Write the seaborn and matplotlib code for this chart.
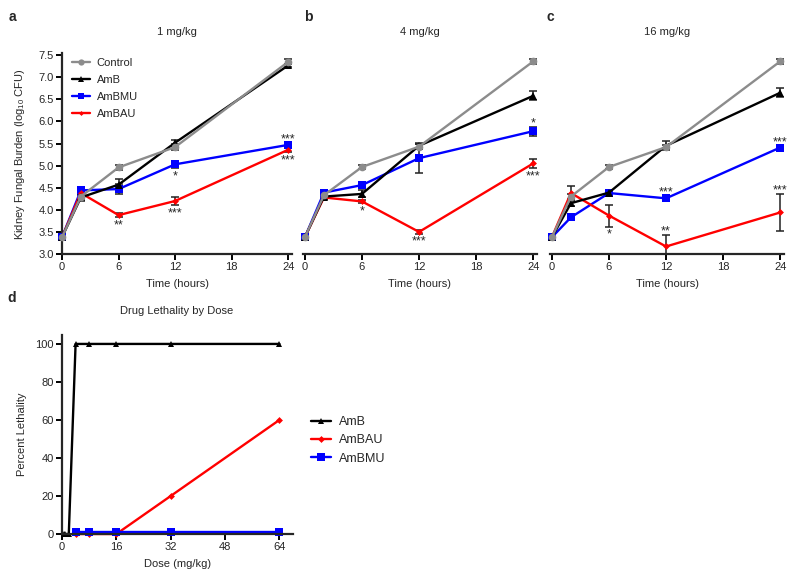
import numpy as np
import pandas as pd
import matplotlib
matplotlib.use("Agg")
import matplotlib.pyplot as plt
from matplotlib.lines import Line2D
import seaborn as sns

# ---------------- data ----------------
time_h = [0, 2, 6, 12, 24]
series_order = ["Control", "AmB", "AmBMU", "AmBAU"]
panel_titles = ["1 mg/kg", "4 mg/kg", "16 mg/kg"]
panel_letters = ["a", "b", "c"]

# 1 mg/kg
control_1 = [3.38, 4.30, 4.96, 5.42, 7.35]
control_1_err = [0.05, 0.05, 0.05, 0.07, 0.06]
amb_1 = [3.38, 4.28, 4.57, 5.52, 7.27]
amb_1_err = [0.05, 0.08, 0.12, 0.06, 0.04]
ambmu_1 = [3.38, 4.44, 4.47, 5.03, 5.47]
ambmu_1_err = [0.05, 0.06, 0.12, 0.08, 0.05]
ambau_1 = [3.38, 4.38, 3.88, 4.20, 5.36]
ambau_1_err = [0.05, 0.05, 0.05, 0.10, 0.05]

# 4 mg/kg
control_4 = [3.38, 4.33, 4.97, 5.43, 7.36]
control_4_err = [0.05, 0.05, 0.05, 0.05, 0.05]
amb_4 = [3.38, 4.30, 4.36, 5.45, 6.58]
amb_4_err = [0.05, 0.05, 0.08, 0.06, 0.10]
ambmu_4 = [3.38, 4.39, 4.56, 5.17, 5.78]
ambmu_4_err = [0.05, 0.06, 0.07, 0.33, 0.10]
ambau_4 = [3.38, 4.28, 4.19, 3.50, 5.05]
ambau_4_err = [0.05, 0.04, 0.04, 0.04, 0.10]

# 16 mg/kg
control_16 = [3.38, 4.30, 4.97, 5.42, 7.36]
control_16_err = [0.05, 0.05, 0.05, 0.05, 0.05]
amb_16 = [3.38, 4.15, 4.39, 5.45, 6.65]
amb_16_err = [0.05, 0.06, 0.05, 0.10, 0.10]
ambmu_16 = [3.38, 3.83, 4.38, 4.26, 5.41]
ambmu_16_err = [0.05, 0.05, 0.05, 0.05, 0.05]
ambau_16 = [3.38, 4.38, 3.87, 3.17, 3.94]
ambau_16_err = [0.05, 0.15, 0.25, 0.26, 0.42]

# significance marks: (series, time, text, side)
stars_1 = [("AmBAU", 6, "**", "below"), ("AmBMU", 12, "*", "below"),
           ("AmBAU", 12, "***", "below"), ("AmBMU", 24, "***", "above"),
           ("AmBAU", 24, "***", "below")]
stars_4 = [("AmBAU", 6, "*", "below"), ("AmBAU", 12, "***", "below"),
           ("AmBMU", 24, "*", "above"), ("AmBAU", 24, "***", "below")]
stars_16 = [("AmBAU", 6, "*", "below"), ("AmBMU", 12, "***", "above"),
            ("AmBAU", 12, "**", "above"), ("AmBMU", 24, "***", "above"),
            ("AmBAU", 24, "***", "above")]

# lethality panel
dose_amb = [0.5, 1, 2, 4, 8, 16, 32, 64]
lethality_amb = [0, 0, 0, 100, 100, 100, 100, 100]
dose_other = [4, 8, 16, 32, 64]
lethality_ambau = [0, 0, 0, 20, 60]
lethality_ambmu = [1, 1, 1, 1, 1]

y_ticks = [3.0, 3.5, 4.0, 4.5, 5.0, 5.5, 6.0, 6.5, 7.0, 7.5]
x_ticks = [0, 6, 12, 18, 24]
dose_ticks = [0, 16, 32, 48, 64]
leth_ticks = [0, 20, 40, 60, 80, 100]

# ---------------- style ----------------
sns.set_style("ticks")
plt.rcParams["font.family"] = ["Liberation Sans", "DejaVu Sans"]
plt.rcParams["mathtext.fontset"] = "custom"
plt.rcParams["mathtext.rm"] = "Liberation Sans"
plt.rcParams["mathtext.it"] = "Liberation Sans:italic"

palette = {"Control": "#8c8c8c", "AmB": "#000000", "AmBMU": "#0000ff", "AmBAU": "#ff0000"}
markers = {"Control": "o", "AmB": "^", "AmBMU": "s", "AmBAU": "D"}
msizes = {"Control": 5.5, "AmB": 5.5, "AmBMU": 5.5, "AmBAU": 3.5}
draw_order = ["AmBMU", "AmBAU", "AmB", "Control"]

W, H = 800, 579
fig = plt.figure(figsize=(8, 5.79), dpi=100)


def px_axes(left, top, right, bottom):
    return fig.add_axes([left / W, 1 - bottom / H, (right - left) / W, (bottom - top) / H])


def style_axis(ax, show_left=True):
    sns.despine(ax=ax, left=not show_left)
    for s in ["left", "bottom"]:
        ax.spines[s].set_linewidth(1.6)
    ax.tick_params(axis="both", width=1.4, length=4, labelsize=8, pad=2, color="black")
    if not show_left:
        ax.tick_params(axis="y", left=False, labelleft=False)


panels = [
    {"Control": (control_1, control_1_err), "AmB": (amb_1, amb_1_err),
     "AmBMU": (ambmu_1, ambmu_1_err), "AmBAU": (ambau_1, ambau_1_err)},
    {"Control": (control_4, control_4_err), "AmB": (amb_4, amb_4_err),
     "AmBMU": (ambmu_4, ambmu_4_err), "AmBAU": (ambau_4, ambau_4_err)},
    {"Control": (control_16, control_16_err), "AmB": (amb_16, amb_16_err),
     "AmBMU": (ambmu_16, ambmu_16_err), "AmBAU": (ambau_16, ambau_16_err)},
]
stars_all = [stars_1, stars_4, stars_16]
axes_px = [(62, 53, 292), (303, 53, 537), (550, 53, 784)]
xlims = [(0, 24.4), (-0.2, 24.4), (-0.2, 24.4)]

for i, (pdata, stars) in enumerate(zip(panels, stars_all)):
    l, t, r = axes_px[i]
    ax = px_axes(l, t, r, 254)
    for name in draw_order:
        vals, errs = pdata[name]
        df = pd.DataFrame({"Time": time_h, "Value": vals, "Drug": name})
        ax.errorbar(time_h, vals, yerr=errs, fmt="none", ecolor="#222222",
                    elinewidth=1.1, capsize=3, capthick=1.1, zorder=2)
        sns.lineplot(data=df, x="Time", y="Value", color=palette[name],
                     marker=markers[name], markersize=msizes[name],
                     markeredgewidth=0, linewidth=1.7, ax=ax, clip_on=False,
                     zorder=3, legend=False)
    for name, tx, txt, side in stars:
        vals, errs = pdata[name]
        k = time_h.index(tx)
        if side == "below":
            ax.annotate(txt, (tx, vals[k] - errs[k]), xytext=(0, -1.5),
                        textcoords="offset points", ha="center", va="top", fontsize=9)
        else:
            ax.annotate(txt, (tx, vals[k] + errs[k]), xytext=(0, -2),
                        textcoords="offset points", ha="center", va="bottom", fontsize=9)
    ax.set_xlim(*xlims[i])
    ax.set_ylim(3.0, 7.55)
    ax.set_xticks(x_ticks)
    ax.set_yticks(y_ticks)
    ax.set_yticklabels([f"{v:.1f}" for v in y_ticks])
    style_axis(ax, show_left=(i == 0))
    ax.set_xlabel("Time (hours)", fontsize=8, labelpad=5)
    ax.set_ylabel("")
    fig.text((l + r) / 2 / W, 1 - 32 / H, panel_titles[i], ha="center", va="center", fontsize=8)
    if i == 0:
        handles = []
        for name in series_order:
            handles.append(Line2D([], [], color=palette[name], marker=markers[name],
                                  markersize=msizes[name] - 1, markeredgewidth=0, linewidth=1.7))
        ax.legend(handles, series_order, loc="upper left", bbox_to_anchor=(0.015, 1.01),
                  frameon=False, fontsize=8, handlelength=1.6, handletextpad=0.6,
                  labelspacing=0.65, borderaxespad=0.2)

fig.text(20 / W, 1 - 154 / H, "Kidney Fungal Burden (log$_{10}$ CFU)", rotation=90,
         ha="center", va="center", fontsize=8)
for letter, xp in zip(panel_letters, [12, 308, 550]):
    fig.text(xp / W, 1 - 17 / H, letter, ha="center", va="center", fontsize=10, fontweight="bold")

# ---------------- panel d ----------------
axd = px_axes(62, 335, 293, 534)
df_amb = pd.DataFrame({"Dose": dose_amb, "Lethality": lethality_amb})
df_ambau = pd.DataFrame({"Dose": dose_other, "Lethality": lethality_ambau})
df_ambmu = pd.DataFrame({"Dose": dose_other, "Lethality": lethality_ambmu})
sns.lineplot(data=df_amb, x="Dose", y="Lethality", color=palette["AmB"], marker="^",
             markersize=5, markeredgewidth=0, linewidth=1.7, ax=axd, clip_on=False, label="AmB")
sns.lineplot(data=df_ambau, x="Dose", y="Lethality", color=palette["AmBAU"], marker="D",
             markersize=3.5, markeredgewidth=0, linewidth=1.7, ax=axd, clip_on=False, label="AmBAU")
sns.lineplot(data=df_ambmu, x="Dose", y="Lethality", color=palette["AmBMU"], marker="s",
             markersize=5.5, markeredgewidth=0, linewidth=1.7, ax=axd, clip_on=False, label="AmBMU")
axd.plot([0, dose_amb[0]], [0, 0], color="black", linewidth=1.7, clip_on=False)
axd.set_xlim(0, 68)
axd.set_ylim(0, 104.7)
axd.set_xticks(dose_ticks)
axd.set_yticks(leth_ticks)
style_axis(axd)
axd.set_xlabel("Dose (mg/kg)", fontsize=8, labelpad=5)
axd.set_ylabel("Percent Lethality", fontsize=8, labelpad=6)
axd.legend(loc="center left", bbox_to_anchor=(1.03, 0.47), frameon=False, fontsize=9,
           handlelength=1.6, handletextpad=0.6, labelspacing=0.5)
fig.text(177 / W, 1 - 311 / H, "Drug Lethality by Dose", ha="center", va="center", fontsize=8)
fig.text(12 / W, 1 - 298 / H, "d", ha="center", va="center", fontsize=10, fontweight="bold")

fig.savefig("out.png", dpi=100)
